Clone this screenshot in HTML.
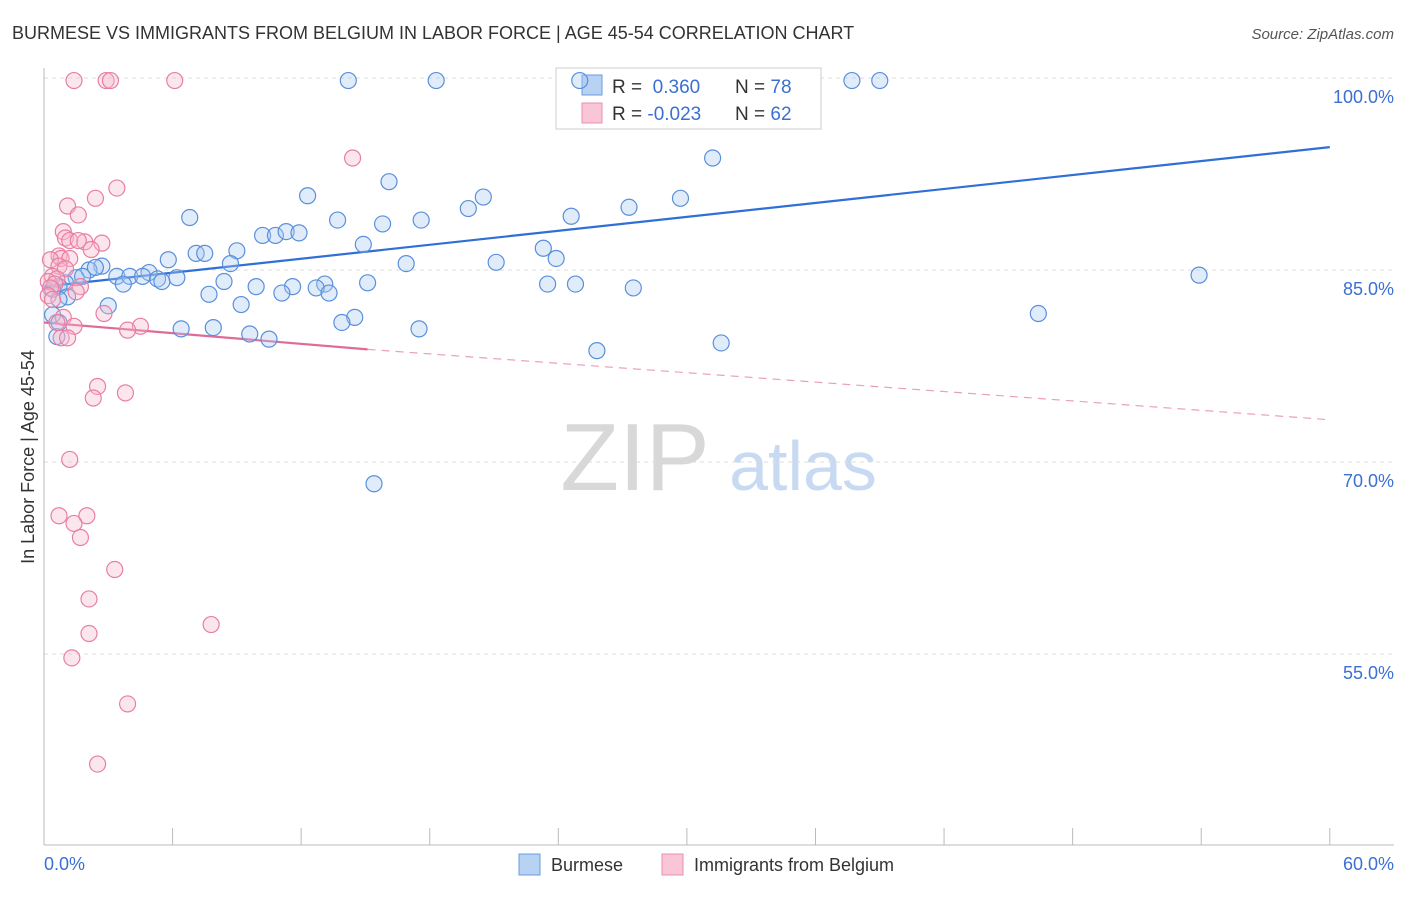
<!DOCTYPE html>
<html><head><meta charset="utf-8"><style>
body{margin:0;background:#fff;font-family:"Liberation Sans",sans-serif;}
svg text{font-family:"Liberation Sans",sans-serif;}
</style></head><body>
<svg id="chart" width="1406" height="892" xmlns="http://www.w3.org/2000/svg">
<text x="12" y="39" font-size="18" fill="#333">BURMESE VS IMMIGRANTS FROM BELGIUM IN LABOR FORCE | AGE 45-54 CORRELATION CHART</text>
<text x="1394" y="39" font-size="15" fill="#555" text-anchor="end" font-style="italic">Source: ZipAtlas.com</text>
<g>
<text x="635" y="490" font-size="96" fill="#d8d8d8" text-anchor="middle" font-family="Liberation Serif">ZIP</text>
<text x="803" y="490" font-size="70" fill="#c8daf2" text-anchor="middle">atlas</text>
</g>
<g id="grid"></g><g id="axes"></g>
<g>
<rect x="556" y="68" width="265" height="61" fill="#fff" stroke="#ccc"/>
<rect x="582" y="75" width="20" height="20" fill="#b8d2f4" stroke="#6a9be0"/>
<rect x="582" y="103" width="20" height="20" fill="#f9c6d6" stroke="#ea8fb0"/>
<text x="612" y="93" font-size="19" fill="#333">R = <tspan fill="#3b6fd4">&#160;0.360</tspan></text>
<text x="735" y="93" font-size="19" fill="#333">N = <tspan fill="#3b6fd4">78</tspan></text>
<text x="612" y="120" font-size="19" fill="#333">R = <tspan fill="#3b6fd4">-0.023</tspan></text>
<text x="735" y="120" font-size="19" fill="#333">N = <tspan fill="#3b6fd4">62</tspan></text>
</g>
<g id="trend"></g><g id="points"></g>
<text transform="translate(34,457) rotate(-90)" font-size="18" fill="#333" text-anchor="middle">In Labor Force | Age 45-54</text>
<text x="44" y="870" font-size="18" fill="#3b6fd4">0.0%</text>
<text x="1394" y="870" font-size="18" fill="#3b6fd4" text-anchor="end">60.0%</text>
<g>
<rect x="519" y="854" width="21" height="21" fill="#b8d2f4" stroke="#6a9be0"/>
<text x="551" y="871" font-size="18" fill="#333">Burmese</text>
<rect x="662" y="854" width="21" height="21" fill="#f9c6d6" stroke="#ea8fb0"/>
<text x="694" y="871" font-size="18" fill="#333">Immigrants from Belgium</text>
</g>
</svg>
<script>
const yTicks=[100,85,70,55];
const yTickLabels=["100.0%","85.0%","70.0%","55.0%"];
const xTicks=[0,6,12,18,24,30,36,42,48,54,60];
const blueX=[25.0,14.2,18.3,37.7,39.0,31.2,16.1,12.3,20.5,19.8,27.3,29.7,24.6,6.8,13.7,15.8,17.6,10.2,10.8,11.3,11.9,14.9,23.3,9.0,7.1,7.5,5.8,8.7,16.9,21.1,23.9,2.7,2.1,2.4,4.9,3.4,4.0,4.6,5.3,6.2,5.5,3.7,8.4,9.9,1.5,1.8,1.0,0.7,0.4,15.1,11.6,13.1,12.7,13.3,23.5,24.8,27.5,7.7,11.1,1.1,0.7,3.0,9.2,14.5,13.9,53.9,46.4,6.4,7.9,9.6,10.5,17.5,31.6,25.8,0.6,15.4,0.4,0.7];
const blueY=[99.8,99.8,99.8,99.8,99.8,93.75,91.9,90.8,90.7,89.8,89.9,90.6,89.2,89.1,88.9,88.6,88.9,87.7,87.7,88.0,87.9,87.0,86.7,86.5,86.3,86.3,85.8,85.5,85.5,85.6,85.9,85.3,85.0,85.2,84.8,84.5,84.5,84.5,84.3,84.4,84.1,83.9,84.1,83.7,84.4,84.5,84.0,83.7,83.5,84.0,83.7,83.9,83.6,83.2,83.9,83.9,83.6,83.1,83.2,82.9,82.7,82.2,82.3,81.3,80.9,84.6,81.6,80.4,80.5,80.0,79.6,80.4,79.3,78.7,79.8,68.3,81.5,80.9];
const pinkX=[1.4,2.9,3.1,6.1,14.4,3.4,2.4,1.1,1.6,0.9,1.0,1.2,1.9,2.7,1.6,2.2,0.7,0.8,1.2,0.3,0.7,1.0,0.4,0.6,0.2,0.5,0.3,1.7,1.5,0.2,0.4,2.8,0.9,0.6,1.4,4.5,3.9,0.8,1.1,2.5,3.8,2.3,1.2,0.7,2.0,1.4,1.7,3.3,2.1,7.8,2.1,1.3,3.9,2.5];
const pinkY=[99.8,99.8,99.8,99.8,93.75,91.4,90.6,90.0,89.3,88.0,87.5,87.3,87.2,87.1,87.3,86.6,86.1,85.9,85.9,85.8,85.3,85.1,84.5,84.3,84.1,83.9,83.6,83.7,83.3,83.0,82.7,81.6,81.3,80.9,80.6,80.6,80.3,79.7,79.7,75.9,75.4,75.0,70.2,65.8,65.8,65.2,64.1,61.6,59.3,57.3,56.6,54.7,51.1,46.4];
const blueTrend=[[0,83.7],[60,94.6]];
const pinkTrendSolid=[[0,80.9],[15.1,78.8]];
const pinkTrendDash=[[15.1,78.8],[60,73.3]];
const X=v=>44+v*21.43, Y=v=>78+(100-v)*12.8;
const NS="http://www.w3.org/2000/svg";
function mk(tag,parent,attrs){const e=document.createElementNS(NS,tag);for(const k in attrs)e.setAttribute(k,attrs[k]);document.getElementById(parent).appendChild(e);return e;}
yTicks.forEach((t,i)=>{
 const l=mk('line','grid',{x1:44,x2:1394,y1:Y(t),y2:Y(t),stroke:'#ddd','stroke-dasharray':'4,4'});
 
 
 const tx=mk('text','grid',{x:1394,y:Y(t)+25,'font-size':18,fill:'#3b6fd4','text-anchor':'end'});
 tx.textContent=yTickLabels[i];
 
 
});
const ax=mk('line','axes',{x1:44,x2:44,y1:68,y2:845,stroke:'#bbb'});


const bx=mk('line','axes',{x1:44,x2:1394,y1:845,y2:845,stroke:'#bbb'});


xTicks.forEach(t=>{
 const l=mk('line','axes',{x1:X(t),x2:X(t),y1:828,y2:845,stroke:'#bbb'});
 
 
});
function pts(xs,ys,fill,stroke,name){
 xs.forEach((x,i)=>{
  const c=mk('circle','points',{cx:X(x),cy:Y(ys[i]),r:8,fill:fill,'fill-opacity':0.35,stroke:stroke,'stroke-width':1.2});
  
  
 });
}
pts(blueX,blueY,'#a8c8f0','#5a8fdc','burmese-point');
pts(pinkX,pinkY,'#f7b6ca','#e87fa3','belgium-point');
function line(p,stroke,w,dash,name){
 const l=mk('line','trend',{x1:X(p[0][0]),y1:Y(p[0][1]),x2:X(p[1][0]),y2:Y(p[1][1]),stroke:stroke,'stroke-width':w});
 if(dash)l.setAttribute('stroke-dasharray',dash);
 
 
}
line(blueTrend,'#2f6fd6',2.2,null,'burmese-trendline');
line(pinkTrendSolid,'#e06a98',2.2,null,'belgium-trendline');
line(pinkTrendDash,'#eaa0bc',1.2,'8,6','belgium-trendline-extension');
</script>
</body></html>
